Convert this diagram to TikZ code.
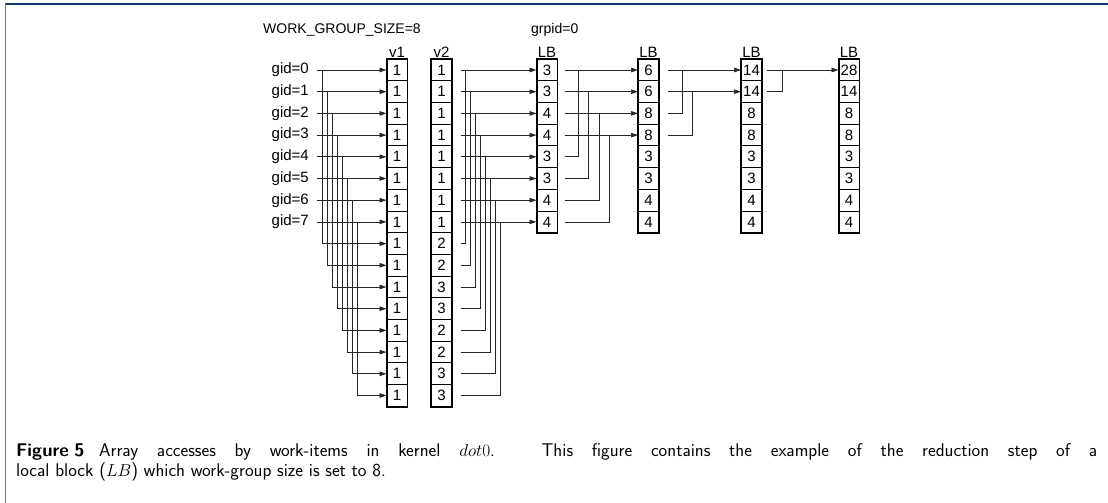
\documentclass[tikz,border=0pt]{standalone}
\usepackage{fontspec}
\usepackage{tikz}
\newfontfamily\diagfont{Liberation Sans}
\definecolor{framedark}{RGB}{16, 56, 108}
\definecolor{frameleft}{RGB}{100, 125, 165}
\usetikzlibrary{arrows.meta}

\begin{document}
\begin{tikzpicture}
			[x=1pt,y=-1pt,every node/.style={inner sep=0pt},
			cell/.style={draw, line width=1pt, minimum width=20pt, minimum height=21.7pt, font=\diagfont\fontsize{15}{15}\selectfont},
			colhead/.style={anchor=south, font=\diagfont\fontsize{15}{15}\selectfont},
			toptxt/.style={anchor=west, font=\diagfont\fontsize{14}{14}\selectfont},
			gidtxt/.style={anchor=east, font=\diagfont\fontsize{15}{15}\selectfont},
			colbox/.style={line width=1.6pt},
			ln/.style={line width=0.7pt, color=black!85},
			arr/.style={ln, -{Triangle[length=7pt,width=4.5pt]}}]
			\useasboundingbox (0,0) rectangle (1108,503);
			% figure frame
			\draw [framedark, line width=1.6pt] (5,4) -- (1108,4);
			\draw [frameleft, line width=1.3pt] (5.5,4) -- (5.5,503);
			% headings
			\node (wgs) [toptxt] at (263,30) {WORK\_GROUP\_SIZE=8};
			\node (grp) [toptxt] at (531,30) {grpid=0};
			% work-item ids
			\node (g0) [gidtxt] at (309,70)    {gid=0};
			\node (g1) [gidtxt] at (309,91.7)  {gid=1};
			\node (g2) [gidtxt] at (309,113.4) {gid=2};
			\node (g3) [gidtxt] at (309,135.1) {gid=3};
			\node (g4) [gidtxt] at (309,156.8) {gid=4};
			\node (g5) [gidtxt] at (309,178.5) {gid=5};
			\node (g6) [gidtxt] at (309,200.2) {gid=6};
			\node (g7) [gidtxt] at (309,221.9) {gid=7};
			% array v1
			\node (v1-0)  [cell] at (397,70)    {1};
			\node (v1-1)  [cell] at (397,91.7)  {1};
			\node (v1-2)  [cell] at (397,113.4) {1};
			\node (v1-3)  [cell] at (397,135.1) {1};
			\node (v1-4)  [cell] at (397,156.8) {1};
			\node (v1-5)  [cell] at (397,178.5) {1};
			\node (v1-6)  [cell] at (397,200.2) {1};
			\node (v1-7)  [cell] at (397,221.9) {1};
			\node (v1-8)  [cell] at (397,243.6) {1};
			\node (v1-9)  [cell] at (397,265.3) {1};
			\node (v1-10) [cell] at (397,287.0) {1};
			\node (v1-11) [cell] at (397,308.7) {1};
			\node (v1-12) [cell] at (397,330.4) {1};
			\node (v1-13) [cell] at (397,352.1) {1};
			\node (v1-14) [cell] at (397,373.8) {1};
			\node (v1-15) [cell] at (397,395.5) {1};
			% array v2
			\node (v2-0)  [cell] at (441.5,70)    {1};
			\node (v2-1)  [cell] at (441.5,91.7)  {1};
			\node (v2-2)  [cell] at (441.5,113.4) {1};
			\node (v2-3)  [cell] at (441.5,135.1) {1};
			\node (v2-4)  [cell] at (441.5,156.8) {1};
			\node (v2-5)  [cell] at (441.5,178.5) {1};
			\node (v2-6)  [cell] at (441.5,200.2) {1};
			\node (v2-7)  [cell] at (441.5,221.9) {1};
			\node (v2-8)  [cell] at (441.5,243.6) {2};
			\node (v2-9)  [cell] at (441.5,265.3) {2};
			\node (v2-10) [cell] at (441.5,287.0) {3};
			\node (v2-11) [cell] at (441.5,308.7) {3};
			\node (v2-12) [cell] at (441.5,330.4) {2};
			\node (v2-13) [cell] at (441.5,352.1) {2};
			\node (v2-14) [cell] at (441.5,373.8) {3};
			\node (v2-15) [cell] at (441.5,395.5) {3};
			% local block, step 1
			\node (lb1-0) [cell] at (547,70)    {3};
			\node (lb1-1) [cell] at (547,91.7)  {3};
			\node (lb1-2) [cell] at (547,113.4) {4};
			\node (lb1-3) [cell] at (547,135.1) {4};
			\node (lb1-4) [cell] at (547,156.8) {3};
			\node (lb1-5) [cell] at (547,178.5) {3};
			\node (lb1-6) [cell] at (547,200.2) {4};
			\node (lb1-7) [cell] at (547,221.9) {4};
			% local block, step 2
			\node (lb2-0) [cell] at (648.5,70)    {6};
			\node (lb2-1) [cell] at (648.5,91.7)  {6};
			\node (lb2-2) [cell] at (648.5,113.4) {8};
			\node (lb2-3) [cell] at (648.5,135.1) {8};
			\node (lb2-4) [cell] at (648.5,156.8) {3};
			\node (lb2-5) [cell] at (648.5,178.5) {3};
			\node (lb2-6) [cell] at (648.5,200.2) {4};
			\node (lb2-7) [cell] at (648.5,221.9) {4};
			% local block, step 3
			\node (lb3-0) [cell] at (751.5,70)    {14};
			\node (lb3-1) [cell] at (751.5,91.7)  {14};
			\node (lb3-2) [cell] at (751.5,113.4) {8};
			\node (lb3-3) [cell] at (751.5,135.1) {8};
			\node (lb3-4) [cell] at (751.5,156.8) {3};
			\node (lb3-5) [cell] at (751.5,178.5) {3};
			\node (lb3-6) [cell] at (751.5,200.2) {4};
			\node (lb3-7) [cell] at (751.5,221.9) {4};
			% local block, step 4
			\node (lb4-0) [cell] at (849,70)    {28};
			\node (lb4-1) [cell] at (849,91.7)  {14};
			\node (lb4-2) [cell] at (849,113.4) {8};
			\node (lb4-3) [cell] at (849,135.1) {8};
			\node (lb4-4) [cell] at (849,156.8) {3};
			\node (lb4-5) [cell] at (849,178.5) {3};
			\node (lb4-6) [cell] at (849,200.2) {4};
			\node (lb4-7) [cell] at (849,221.9) {4};
			% outlines of the columns
			\draw [colbox] (v1-0.north west) rectangle (v1-15.south east);
			\draw [colbox] (v2-0.north west) rectangle (v2-15.south east);
			\draw [colbox] (lb1-0.north west) rectangle (lb1-7.south east);
			\draw [colbox] (lb2-0.north west) rectangle (lb2-7.south east);
			\draw [colbox] (lb3-0.north west) rectangle (lb3-7.south east);
			\draw [colbox] (lb4-0.north west) rectangle (lb4-7.south east);
			% column headings
			\node (hv1) [colhead] at ([yshift=1pt]v1-0.north) {v1};
			\node (hv2) [colhead] at ([yshift=1pt]v2-0.north) {v2};
			\node (hlb1) [colhead] at ([yshift=1pt]lb1-0.north) {LB};
			\node (hlb2) [colhead] at ([yshift=1pt]lb2-0.north) {LB};
			\node (hlb3) [colhead] at ([yshift=1pt]lb3-0.north) {LB};
			\node (hlb4) [colhead] at ([yshift=1pt]lb4-0.north) {LB};
			% branch points
			\coordinate (ja0) at (322,70);
			\coordinate (ja1) at (327,91.7);
			\coordinate (ja2) at (332,113.4);
			\coordinate (ja3) at (337,135.1);
			\coordinate (ja4) at (342,156.8);
			\coordinate (ja5) at (347,178.5);
			\coordinate (ja6) at (352,200.2);
			\coordinate (ja7) at (357,221.9);
			\coordinate (jb0) at (465,70);
			\coordinate (jb1) at (470,91.7);
			\coordinate (jb2) at (475,113.4);
			\coordinate (jb3) at (480,135.1);
			\coordinate (jb4) at (485,156.8);
			\coordinate (jb5) at (490,178.5);
			\coordinate (jb6) at (495,200.2);
			\coordinate (jb7) at (500,221.9);
			\coordinate (jc0) at (578,70);
			\coordinate (jc1) at (588.5,91.7);
			\coordinate (jc2) at (599,113.4);
			\coordinate (jc3) at (609.5,135.1);
			\coordinate (jd0) at (682,70);
			\coordinate (jd1) at (692,91.7);
			\coordinate (je0) at (782,70);
			% gid -> v1
			\draw [arr, shorten <=8pt] (g0) -- (v1-0);
			\draw [arr, shorten <=8pt] (g1) -- (v1-1);
			\draw [arr, shorten <=8pt] (g2) -- (v1-2);
			\draw [arr, shorten <=8pt] (g3) -- (v1-3);
			\draw [arr, shorten <=8pt] (g4) -- (v1-4);
			\draw [arr, shorten <=8pt] (g5) -- (v1-5);
			\draw [arr, shorten <=8pt] (g6) -- (v1-6);
			\draw [arr, shorten <=8pt] (g7) -- (v1-7);
			\draw [arr] (ja0) |- (v1-8);
			\draw [arr] (ja1) |- (v1-9);
			\draw [arr] (ja2) |- (v1-10);
			\draw [arr] (ja3) |- (v1-11);
			\draw [arr] (ja4) |- (v1-12);
			\draw [arr] (ja5) |- (v1-13);
			\draw [arr] (ja6) |- (v1-14);
			\draw [arr] (ja7) |- (v1-15);
			% v2 -> LB
			\draw [arr, shorten <=9pt] (v2-0) -- (lb1-0);
			\draw [arr, shorten <=9pt] (v2-1) -- (lb1-1);
			\draw [arr, shorten <=9pt] (v2-2) -- (lb1-2);
			\draw [arr, shorten <=9pt] (v2-3) -- (lb1-3);
			\draw [arr, shorten <=9pt] (v2-4) -- (lb1-4);
			\draw [arr, shorten <=9pt] (v2-5) -- (lb1-5);
			\draw [arr, shorten <=9pt] (v2-6) -- (lb1-6);
			\draw [arr, shorten <=9pt] (v2-7) -- (lb1-7);
			\draw [ln, shorten <=9pt] (v2-8) -| (jb0);
			\draw [ln, shorten <=9pt] (v2-9) -| (jb1);
			\draw [ln, shorten <=9pt] (v2-10) -| (jb2);
			\draw [ln, shorten <=9pt] (v2-11) -| (jb3);
			\draw [ln, shorten <=9pt] (v2-12) -| (jb4);
			\draw [ln, shorten <=9pt] (v2-13) -| (jb5);
			\draw [ln, shorten <=9pt] (v2-14) -| (jb6);
			\draw [ln, shorten <=9pt] (v2-15) -| (jb7);
			% reduction steps
			\draw [arr, shorten <=7pt] (lb1-0) -- (lb2-0);
			\draw [arr, shorten <=7pt] (lb1-1) -- (lb2-1);
			\draw [arr, shorten <=7pt] (lb1-2) -- (lb2-2);
			\draw [arr, shorten <=7pt] (lb1-3) -- (lb2-3);
			\draw [ln, shorten <=7pt] (lb1-4) -| (jc0);
			\draw [ln, shorten <=7pt] (lb1-5) -| (jc1);
			\draw [ln, shorten <=7pt] (lb1-6) -| (jc2);
			\draw [ln, shorten <=7pt] (lb1-7) -| (jc3);
			\draw [arr, shorten <=9pt] (lb2-0) -- (lb3-0);
			\draw [arr, shorten <=9pt] (lb2-1) -- (lb3-1);
			\draw [ln, shorten <=9pt] (lb2-2) -| (jd0);
			\draw [ln, shorten <=9pt] (lb2-3) -| (jd1);
			\draw [arr, shorten <=5pt] (lb3-0) -- (lb4-0);
			\draw [ln, shorten <=5pt] (lb3-1) -| (je0);
			% caption
			\node (cap) [anchor=north west, text width=1081pt, align=justify, font=\sffamily\fontsize{18.4}{20}\selectfont] at (16,443)
				{\textbf{Figure\hspace{0.3em}5}\hspace{0.8em}Array accesses by work-items in kernel $dot0$. This figure contains the example of the reduction step of a\linebreak
				local block ($LB$) which work-group size is set to 8.};
	\end{tikzpicture}
\end{document}
